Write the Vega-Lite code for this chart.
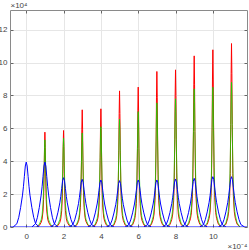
{
"$schema":"https://vega.github.io/schema/vega-lite/v6.json",
"width":237,"height":217,
"autosize":{"type":"none"},
"padding":{"left":10,"top":10,"right":2,"bottom":23},
"background":"white",
"config":{
"view":{"stroke":"#8a8a8a","strokeWidth":1},
"axis":{"labelFont":"Liberation Sans","labelFontSize":8,"labelColor":"#444444","gridColor":"#e6e6e6","gridWidth":1,"domain":false,"tickColor":"#666666","tickSize":-3,"titleFont":"Liberation Sans","titleFontSize":8,"titleFontWeight":"normal","titleColor":"#444444"}
},
"datasets":{
"red":[
{"k":1,"x":0.55,"y":0},{"k":1,"x":0.7,"y":0.09},{"k":1,"x":0.8,"y":0.28},{"k":1,"x":0.85,"y":0.48},{"k":1,"x":0.9,"y":0.97},{"k":1,"x":0.93,"y":1.68},{"k":1,"x":0.96,"y":3.23},{"k":1,"x":0.98,"y":4.82},{"k":1,"x":1,"y":5.77},{"k":1,"x":1.02,"y":4.82},{"k":1,"x":1.04,"y":3.23},{"k":1,"x":1.07,"y":1.68},{"k":1,"x":1.1,"y":0.97},{"k":1,"x":1.15,"y":0.48},{"k":1,"x":1.2,"y":0.28},{"k":1,"x":1.3,"y":0.09},{"k":1,"x":1.45,"y":0},
{"k":2,"x":1.55,"y":0},{"k":2,"x":1.7,"y":0.09},{"k":2,"x":1.8,"y":0.28},{"k":2,"x":1.85,"y":0.49},{"k":2,"x":1.9,"y":0.99},{"k":2,"x":1.93,"y":1.71},{"k":2,"x":1.96,"y":3.28},{"k":2,"x":1.98,"y":4.9},{"k":2,"x":2,"y":5.87},{"k":2,"x":2.02,"y":4.9},{"k":2,"x":2.04,"y":3.28},{"k":2,"x":2.07,"y":1.71},{"k":2,"x":2.1,"y":0.99},{"k":2,"x":2.15,"y":0.49},{"k":2,"x":2.2,"y":0.28},{"k":2,"x":2.3,"y":0.09},{"k":2,"x":2.45,"y":0},
{"k":3,"x":2.55,"y":0},{"k":3,"x":2.7,"y":0.11},{"k":3,"x":2.8,"y":0.34},{"k":3,"x":2.85,"y":0.59},{"k":3,"x":2.9,"y":1.2},{"k":3,"x":2.93,"y":2.08},{"k":3,"x":2.96,"y":3.99},{"k":3,"x":2.98,"y":5.95},{"k":3,"x":3,"y":7.13},{"k":3,"x":3.02,"y":5.95},{"k":3,"x":3.04,"y":3.99},{"k":3,"x":3.07,"y":2.08},{"k":3,"x":3.1,"y":1.2},{"k":3,"x":3.15,"y":0.59},{"k":3,"x":3.2,"y":0.34},{"k":3,"x":3.3,"y":0.11},{"k":3,"x":3.45,"y":0},
{"k":4,"x":3.55,"y":0},{"k":4,"x":3.7,"y":0.11},{"k":4,"x":3.8,"y":0.35},{"k":4,"x":3.85,"y":0.6},{"k":4,"x":3.9,"y":1.21},{"k":4,"x":3.93,"y":2.1},{"k":4,"x":3.96,"y":4.02},{"k":4,"x":3.98,"y":6},{"k":4,"x":4,"y":7.19},{"k":4,"x":4.02,"y":6},{"k":4,"x":4.04,"y":4.02},{"k":4,"x":4.07,"y":2.1},{"k":4,"x":4.1,"y":1.21},{"k":4,"x":4.15,"y":0.6},{"k":4,"x":4.2,"y":0.35},{"k":4,"x":4.3,"y":0.11},{"k":4,"x":4.45,"y":0},
{"k":5,"x":4.55,"y":0},{"k":5,"x":4.7,"y":0.12},{"k":5,"x":4.8,"y":0.4},{"k":5,"x":4.85,"y":0.69},{"k":5,"x":4.9,"y":1.39},{"k":5,"x":4.93,"y":2.42},{"k":5,"x":4.96,"y":4.63},{"k":5,"x":4.98,"y":6.91},{"k":5,"x":5,"y":8.28},{"k":5,"x":5.02,"y":6.91},{"k":5,"x":5.04,"y":4.63},{"k":5,"x":5.07,"y":2.42},{"k":5,"x":5.1,"y":1.39},{"k":5,"x":5.15,"y":0.69},{"k":5,"x":5.2,"y":0.4},{"k":5,"x":5.3,"y":0.12},{"k":5,"x":5.45,"y":0},
{"k":6,"x":5.55,"y":0},{"k":6,"x":5.7,"y":0.13},{"k":6,"x":5.8,"y":0.41},{"k":6,"x":5.85,"y":0.71},{"k":6,"x":5.9,"y":1.43},{"k":6,"x":5.93,"y":2.48},{"k":6,"x":5.96,"y":4.76},{"k":6,"x":5.98,"y":7.11},{"k":6,"x":6,"y":8.51},{"k":6,"x":6.02,"y":7.11},{"k":6,"x":6.04,"y":4.76},{"k":6,"x":6.07,"y":2.48},{"k":6,"x":6.1,"y":1.43},{"k":6,"x":6.15,"y":0.71},{"k":6,"x":6.2,"y":0.41},{"k":6,"x":6.3,"y":0.13},{"k":6,"x":6.45,"y":0},
{"k":7,"x":6.55,"y":0},{"k":7,"x":6.7,"y":0.14},{"k":7,"x":6.8,"y":0.45},{"k":7,"x":6.85,"y":0.79},{"k":7,"x":6.9,"y":1.59},{"k":7,"x":6.93,"y":2.76},{"k":7,"x":6.96,"y":5.29},{"k":7,"x":6.98,"y":7.9},{"k":7,"x":7,"y":9.46},{"k":7,"x":7.02,"y":7.9},{"k":7,"x":7.04,"y":5.29},{"k":7,"x":7.07,"y":2.76},{"k":7,"x":7.1,"y":1.59},{"k":7,"x":7.15,"y":0.79},{"k":7,"x":7.2,"y":0.45},{"k":7,"x":7.3,"y":0.14},{"k":7,"x":7.45,"y":0},
{"k":8,"x":7.55,"y":0},{"k":8,"x":7.7,"y":0.14},{"k":8,"x":7.8,"y":0.46},{"k":8,"x":7.85,"y":0.79},{"k":8,"x":7.9,"y":1.61},{"k":8,"x":7.93,"y":2.79},{"k":8,"x":7.96,"y":5.34},{"k":8,"x":7.98,"y":7.98},{"k":8,"x":8,"y":9.56},{"k":8,"x":8.02,"y":7.98},{"k":8,"x":8.04,"y":5.34},{"k":8,"x":8.07,"y":2.79},{"k":8,"x":8.1,"y":1.61},{"k":8,"x":8.15,"y":0.79},{"k":8,"x":8.2,"y":0.46},{"k":8,"x":8.3,"y":0.14},{"k":8,"x":8.45,"y":0},
{"k":9,"x":8.55,"y":0},{"k":9,"x":8.7,"y":0.16},{"k":9,"x":8.8,"y":0.5},{"k":9,"x":8.85,"y":0.86},{"k":9,"x":8.9,"y":1.75},{"k":9,"x":8.93,"y":3.04},{"k":9,"x":8.96,"y":5.82},{"k":9,"x":8.98,"y":8.69},{"k":9,"x":9,"y":10.41},{"k":9,"x":9.02,"y":8.69},{"k":9,"x":9.04,"y":5.82},{"k":9,"x":9.07,"y":3.04},{"k":9,"x":9.1,"y":1.75},{"k":9,"x":9.15,"y":0.86},{"k":9,"x":9.2,"y":0.5},{"k":9,"x":9.3,"y":0.16},{"k":9,"x":9.45,"y":0},
{"k":10,"x":9.55,"y":0},{"k":10,"x":9.7,"y":0.16},{"k":10,"x":9.8,"y":0.52},{"k":10,"x":9.85,"y":0.89},{"k":10,"x":9.9,"y":1.81},{"k":10,"x":9.93,"y":3.15},{"k":10,"x":9.96,"y":6.03},{"k":10,"x":9.98,"y":9},{"k":10,"x":10,"y":10.78},{"k":10,"x":10.02,"y":9},{"k":10,"x":10.04,"y":6.03},{"k":10,"x":10.07,"y":3.15},{"k":10,"x":10.1,"y":1.81},{"k":10,"x":10.15,"y":0.89},{"k":10,"x":10.2,"y":0.52},{"k":10,"x":10.3,"y":0.16},{"k":10,"x":10.45,"y":0},
{"k":11,"x":10.55,"y":0},{"k":11,"x":10.7,"y":0.17},{"k":11,"x":10.8,"y":0.54},{"k":11,"x":10.85,"y":0.93},{"k":11,"x":10.9,"y":1.87},{"k":11,"x":10.93,"y":3.26},{"k":11,"x":10.96,"y":6.24},{"k":11,"x":10.98,"y":9.32},{"k":11,"x":11,"y":11.16},{"k":11,"x":11.02,"y":9.32},{"k":11,"x":11.04,"y":6.24},{"k":11,"x":11.07,"y":3.26},{"k":11,"x":11.1,"y":1.87},{"k":11,"x":11.15,"y":0.93},{"k":11,"x":11.2,"y":0.54},{"k":11,"x":11.3,"y":0.17},{"k":11,"x":11.45,"y":0}
],
"green":[
{"k":1,"x":0.55,"y":0},{"k":1,"x":0.7,"y":0.16},{"k":1,"x":0.8,"y":0.44},{"k":1,"x":0.85,"y":0.73},{"k":1,"x":0.9,"y":1.4},{"k":1,"x":0.93,"y":2.25},{"k":1,"x":0.96,"y":3.67},{"k":1,"x":0.98,"y":4.77},{"k":1,"x":1,"y":5.3},{"k":1,"x":1.02,"y":4.77},{"k":1,"x":1.04,"y":3.67},{"k":1,"x":1.07,"y":2.25},{"k":1,"x":1.1,"y":1.4},{"k":1,"x":1.15,"y":0.73},{"k":1,"x":1.2,"y":0.44},{"k":1,"x":1.3,"y":0.16},{"k":1,"x":1.45,"y":0},
{"k":2,"x":1.55,"y":0},{"k":2,"x":1.7,"y":0.16},{"k":2,"x":1.8,"y":0.45},{"k":2,"x":1.85,"y":0.75},{"k":2,"x":1.9,"y":1.43},{"k":2,"x":1.93,"y":2.29},{"k":2,"x":1.96,"y":3.74},{"k":2,"x":1.98,"y":4.86},{"k":2,"x":2,"y":5.4},{"k":2,"x":2.02,"y":4.86},{"k":2,"x":2.04,"y":3.74},{"k":2,"x":2.07,"y":2.29},{"k":2,"x":2.1,"y":1.43},{"k":2,"x":2.15,"y":0.75},{"k":2,"x":2.2,"y":0.45},{"k":2,"x":2.3,"y":0.16},{"k":2,"x":2.45,"y":0},
{"k":3,"x":2.55,"y":0},{"k":3,"x":2.7,"y":0.17},{"k":3,"x":2.8,"y":0.47},{"k":3,"x":2.85,"y":0.79},{"k":3,"x":2.9,"y":1.52},{"k":3,"x":2.93,"y":2.43},{"k":3,"x":2.96,"y":3.96},{"k":3,"x":2.98,"y":5.15},{"k":3,"x":3,"y":5.72},{"k":3,"x":3.02,"y":5.15},{"k":3,"x":3.04,"y":3.96},{"k":3,"x":3.07,"y":2.43},{"k":3,"x":3.1,"y":1.52},{"k":3,"x":3.15,"y":0.79},{"k":3,"x":3.2,"y":0.47},{"k":3,"x":3.3,"y":0.17},{"k":3,"x":3.45,"y":0},
{"k":4,"x":3.55,"y":0},{"k":4,"x":3.7,"y":0.18},{"k":4,"x":3.8,"y":0.51},{"k":4,"x":3.85,"y":0.84},{"k":4,"x":3.9,"y":1.62},{"k":4,"x":3.93,"y":2.59},{"k":4,"x":3.96,"y":4.22},{"k":4,"x":3.98,"y":5.49},{"k":4,"x":4,"y":6.1},{"k":4,"x":4.02,"y":5.49},{"k":4,"x":4.04,"y":4.22},{"k":4,"x":4.07,"y":2.59},{"k":4,"x":4.1,"y":1.62},{"k":4,"x":4.15,"y":0.84},{"k":4,"x":4.2,"y":0.51},{"k":4,"x":4.3,"y":0.18},{"k":4,"x":4.45,"y":0},
{"k":5,"x":4.55,"y":0},{"k":5,"x":4.7,"y":0.2},{"k":5,"x":4.8,"y":0.54},{"k":5,"x":4.85,"y":0.91},{"k":5,"x":4.9,"y":1.74},{"k":5,"x":4.93,"y":2.78},{"k":5,"x":4.96,"y":4.54},{"k":5,"x":4.98,"y":5.9},{"k":5,"x":5,"y":6.56},{"k":5,"x":5.02,"y":5.9},{"k":5,"x":5.04,"y":4.54},{"k":5,"x":5.07,"y":2.78},{"k":5,"x":5.1,"y":1.74},{"k":5,"x":5.15,"y":0.91},{"k":5,"x":5.2,"y":0.54},{"k":5,"x":5.3,"y":0.2},{"k":5,"x":5.45,"y":0},
{"k":6,"x":5.55,"y":0},{"k":6,"x":5.7,"y":0.21},{"k":6,"x":5.8,"y":0.58},{"k":6,"x":5.85,"y":0.97},{"k":6,"x":5.9,"y":1.86},{"k":6,"x":5.93,"y":2.98},{"k":6,"x":5.96,"y":4.86},{"k":6,"x":5.98,"y":6.32},{"k":6,"x":6,"y":7.02},{"k":6,"x":6.02,"y":6.32},{"k":6,"x":6.04,"y":4.86},{"k":6,"x":6.07,"y":2.98},{"k":6,"x":6.1,"y":1.86},{"k":6,"x":6.15,"y":0.97},{"k":6,"x":6.2,"y":0.58},{"k":6,"x":6.3,"y":0.21},{"k":6,"x":6.45,"y":0},
{"k":7,"x":6.55,"y":0},{"k":7,"x":6.7,"y":0.23},{"k":7,"x":6.8,"y":0.63},{"k":7,"x":6.85,"y":1.04},{"k":7,"x":6.9,"y":2},{"k":7,"x":6.93,"y":3.2},{"k":7,"x":6.96,"y":5.22},{"k":7,"x":6.98,"y":6.8},{"k":7,"x":7,"y":7.55},{"k":7,"x":7.02,"y":6.8},{"k":7,"x":7.04,"y":5.22},{"k":7,"x":7.07,"y":3.2},{"k":7,"x":7.1,"y":2},{"k":7,"x":7.15,"y":1.04},{"k":7,"x":7.2,"y":0.63},{"k":7,"x":7.3,"y":0.23},{"k":7,"x":7.45,"y":0},
{"k":8,"x":7.55,"y":0},{"k":8,"x":7.7,"y":0.23},{"k":8,"x":7.8,"y":0.65},{"k":8,"x":7.85,"y":1.08},{"k":8,"x":7.9,"y":2.07},{"k":8,"x":7.93,"y":3.31},{"k":8,"x":7.96,"y":5.4},{"k":8,"x":7.98,"y":7.02},{"k":8,"x":8,"y":7.8},{"k":8,"x":8.02,"y":7.02},{"k":8,"x":8.04,"y":5.4},{"k":8,"x":8.07,"y":3.31},{"k":8,"x":8.1,"y":2.07},{"k":8,"x":8.15,"y":1.08},{"k":8,"x":8.2,"y":0.65},{"k":8,"x":8.3,"y":0.23},{"k":8,"x":8.45,"y":0},
{"k":9,"x":8.55,"y":0},{"k":9,"x":8.7,"y":0.25},{"k":9,"x":8.8,"y":0.7},{"k":9,"x":8.85,"y":1.16},{"k":9,"x":8.9,"y":2.23},{"k":9,"x":8.93,"y":3.56},{"k":9,"x":8.96,"y":5.81},{"k":9,"x":8.98,"y":7.56},{"k":9,"x":9,"y":8.4},{"k":9,"x":9.02,"y":7.56},{"k":9,"x":9.04,"y":5.81},{"k":9,"x":9.07,"y":3.56},{"k":9,"x":9.1,"y":2.23},{"k":9,"x":9.15,"y":1.16},{"k":9,"x":9.2,"y":0.7},{"k":9,"x":9.3,"y":0.25},{"k":9,"x":9.45,"y":0},
{"k":10,"x":9.55,"y":0},{"k":10,"x":9.7,"y":0.26},{"k":10,"x":9.8,"y":0.71},{"k":10,"x":9.85,"y":1.17},{"k":10,"x":9.9,"y":2.25},{"k":10,"x":9.93,"y":3.6},{"k":10,"x":9.96,"y":5.88},{"k":10,"x":9.98,"y":7.65},{"k":10,"x":10,"y":8.5},{"k":10,"x":10.02,"y":7.65},{"k":10,"x":10.04,"y":5.88},{"k":10,"x":10.07,"y":3.6},{"k":10,"x":10.1,"y":2.25},{"k":10,"x":10.15,"y":1.17},{"k":10,"x":10.2,"y":0.71},{"k":10,"x":10.3,"y":0.26},{"k":10,"x":10.45,"y":0},
{"k":11,"x":10.55,"y":0},{"k":11,"x":10.7,"y":0.26},{"k":11,"x":10.8,"y":0.73},{"k":11,"x":10.85,"y":1.21},{"k":11,"x":10.9,"y":2.33},{"k":11,"x":10.93,"y":3.73},{"k":11,"x":10.96,"y":6.09},{"k":11,"x":10.98,"y":7.92},{"k":11,"x":11,"y":8.8},{"k":11,"x":11.02,"y":7.92},{"k":11,"x":11.04,"y":6.09},{"k":11,"x":11.07,"y":3.73},{"k":11,"x":11.1,"y":2.33},{"k":11,"x":11.15,"y":1.21},{"k":11,"x":11.2,"y":0.73},{"k":11,"x":11.3,"y":0.26},{"k":11,"x":11.45,"y":0}
],
"blue":[
{"k":0,"x":-0.7,"y":0},{"k":0,"x":-0.5,"y":0.2},{"k":0,"x":-0.4,"y":0.59},{"k":0,"x":-0.3,"y":1.19},{"k":0,"x":-0.2,"y":1.94},{"k":0,"x":-0.15,"y":2.45},{"k":0,"x":-0.1,"y":3.08},{"k":0,"x":-0.05,"y":3.71},{"k":0,"x":0,"y":3.95},{"k":0,"x":0.05,"y":3.71},{"k":0,"x":0.1,"y":3.08},{"k":0,"x":0.15,"y":2.45},{"k":0,"x":0.2,"y":1.94},{"k":0,"x":0.3,"y":1.19},{"k":0,"x":0.4,"y":0.59},{"k":0,"x":0.5,"y":0.2},{"k":0,"x":0.7,"y":0},
{"k":1,"x":0.3,"y":0},{"k":1,"x":0.5,"y":0.2},{"k":1,"x":0.6,"y":0.59},{"k":1,"x":0.7,"y":1.19},{"k":1,"x":0.8,"y":1.94},{"k":1,"x":0.85,"y":2.45},{"k":1,"x":0.9,"y":3.08},{"k":1,"x":0.95,"y":3.71},{"k":1,"x":1,"y":3.95},{"k":1,"x":1.05,"y":3.71},{"k":1,"x":1.1,"y":3.08},{"k":1,"x":1.15,"y":2.45},{"k":1,"x":1.2,"y":1.94},{"k":1,"x":1.3,"y":1.19},{"k":1,"x":1.4,"y":0.59},{"k":1,"x":1.5,"y":0.2},{"k":1,"x":1.7,"y":0},
{"k":2,"x":1.3,"y":0},{"k":2,"x":1.5,"y":0.15},{"k":2,"x":1.6,"y":0.45},{"k":2,"x":1.7,"y":0.9},{"k":2,"x":1.8,"y":1.47},{"k":2,"x":1.85,"y":1.86},{"k":2,"x":1.9,"y":2.34},{"k":2,"x":1.95,"y":2.82},{"k":2,"x":2,"y":3},{"k":2,"x":2.05,"y":2.82},{"k":2,"x":2.1,"y":2.34},{"k":2,"x":2.15,"y":1.86},{"k":2,"x":2.2,"y":1.47},{"k":2,"x":2.3,"y":0.9},{"k":2,"x":2.4,"y":0.45},{"k":2,"x":2.5,"y":0.15},{"k":2,"x":2.7,"y":0},
{"k":3,"x":2.3,"y":0},{"k":3,"x":2.5,"y":0.15},{"k":3,"x":2.6,"y":0.44},{"k":3,"x":2.7,"y":0.87},{"k":3,"x":2.8,"y":1.42},{"k":3,"x":2.85,"y":1.8},{"k":3,"x":2.9,"y":2.26},{"k":3,"x":2.95,"y":2.73},{"k":3,"x":3,"y":2.9},{"k":3,"x":3.05,"y":2.73},{"k":3,"x":3.1,"y":2.26},{"k":3,"x":3.15,"y":1.8},{"k":3,"x":3.2,"y":1.42},{"k":3,"x":3.3,"y":0.87},{"k":3,"x":3.4,"y":0.44},{"k":3,"x":3.5,"y":0.15},{"k":3,"x":3.7,"y":0},
{"k":4,"x":3.3,"y":0},{"k":4,"x":3.5,"y":0.14},{"k":4,"x":3.6,"y":0.43},{"k":4,"x":3.7,"y":0.86},{"k":4,"x":3.8,"y":1.4},{"k":4,"x":3.85,"y":1.77},{"k":4,"x":3.9,"y":2.23},{"k":4,"x":3.95,"y":2.69},{"k":4,"x":4,"y":2.86},{"k":4,"x":4.05,"y":2.69},{"k":4,"x":4.1,"y":2.23},{"k":4,"x":4.15,"y":1.77},{"k":4,"x":4.2,"y":1.4},{"k":4,"x":4.3,"y":0.86},{"k":4,"x":4.4,"y":0.43},{"k":4,"x":4.5,"y":0.14},{"k":4,"x":4.7,"y":0},
{"k":5,"x":4.3,"y":0},{"k":5,"x":4.5,"y":0.14},{"k":5,"x":4.6,"y":0.42},{"k":5,"x":4.7,"y":0.85},{"k":5,"x":4.8,"y":1.38},{"k":5,"x":4.85,"y":1.75},{"k":5,"x":4.9,"y":2.2},{"k":5,"x":4.95,"y":2.65},{"k":5,"x":5,"y":2.82},{"k":5,"x":5.05,"y":2.65},{"k":5,"x":5.1,"y":2.2},{"k":5,"x":5.15,"y":1.75},{"k":5,"x":5.2,"y":1.38},{"k":5,"x":5.3,"y":0.85},{"k":5,"x":5.4,"y":0.42},{"k":5,"x":5.5,"y":0.14},{"k":5,"x":5.7,"y":0},
{"k":6,"x":5.3,"y":0},{"k":6,"x":5.5,"y":0.14},{"k":6,"x":5.6,"y":0.43},{"k":6,"x":5.7,"y":0.86},{"k":6,"x":5.8,"y":1.4},{"k":6,"x":5.85,"y":1.77},{"k":6,"x":5.9,"y":2.23},{"k":6,"x":5.95,"y":2.69},{"k":6,"x":6,"y":2.86},{"k":6,"x":6.05,"y":2.69},{"k":6,"x":6.1,"y":2.23},{"k":6,"x":6.15,"y":1.77},{"k":6,"x":6.2,"y":1.4},{"k":6,"x":6.3,"y":0.86},{"k":6,"x":6.4,"y":0.43},{"k":6,"x":6.5,"y":0.14},{"k":6,"x":6.7,"y":0},
{"k":7,"x":6.3,"y":0},{"k":7,"x":6.5,"y":0.14},{"k":7,"x":6.6,"y":0.43},{"k":7,"x":6.7,"y":0.86},{"k":7,"x":6.8,"y":1.4},{"k":7,"x":6.85,"y":1.77},{"k":7,"x":6.9,"y":2.23},{"k":7,"x":6.95,"y":2.69},{"k":7,"x":7,"y":2.86},{"k":7,"x":7.05,"y":2.69},{"k":7,"x":7.1,"y":2.23},{"k":7,"x":7.15,"y":1.77},{"k":7,"x":7.2,"y":1.4},{"k":7,"x":7.3,"y":0.86},{"k":7,"x":7.4,"y":0.43},{"k":7,"x":7.5,"y":0.14},{"k":7,"x":7.7,"y":0},
{"k":8,"x":7.3,"y":0},{"k":8,"x":7.5,"y":0.15},{"k":8,"x":7.6,"y":0.44},{"k":8,"x":7.7,"y":0.88},{"k":8,"x":7.8,"y":1.43},{"k":8,"x":7.85,"y":1.81},{"k":8,"x":7.9,"y":2.28},{"k":8,"x":7.95,"y":2.74},{"k":8,"x":8,"y":2.92},{"k":8,"x":8.05,"y":2.74},{"k":8,"x":8.1,"y":2.28},{"k":8,"x":8.15,"y":1.81},{"k":8,"x":8.2,"y":1.43},{"k":8,"x":8.3,"y":0.88},{"k":8,"x":8.4,"y":0.44},{"k":8,"x":8.5,"y":0.15},{"k":8,"x":8.7,"y":0},
{"k":9,"x":8.3,"y":0},{"k":9,"x":8.5,"y":0.15},{"k":9,"x":8.6,"y":0.44},{"k":9,"x":8.7,"y":0.89},{"k":9,"x":8.8,"y":1.45},{"k":9,"x":8.85,"y":1.84},{"k":9,"x":8.9,"y":2.31},{"k":9,"x":8.95,"y":2.78},{"k":9,"x":9,"y":2.96},{"k":9,"x":9.05,"y":2.78},{"k":9,"x":9.1,"y":2.31},{"k":9,"x":9.15,"y":1.84},{"k":9,"x":9.2,"y":1.45},{"k":9,"x":9.3,"y":0.89},{"k":9,"x":9.4,"y":0.44},{"k":9,"x":9.5,"y":0.15},{"k":9,"x":9.7,"y":0},
{"k":10,"x":9.3,"y":0},{"k":10,"x":9.5,"y":0.15},{"k":10,"x":9.6,"y":0.46},{"k":10,"x":9.7,"y":0.92},{"k":10,"x":9.8,"y":1.5},{"k":10,"x":9.85,"y":1.9},{"k":10,"x":9.9,"y":2.39},{"k":10,"x":9.95,"y":2.88},{"k":10,"x":10,"y":3.06},{"k":10,"x":10.05,"y":2.88},{"k":10,"x":10.1,"y":2.39},{"k":10,"x":10.15,"y":1.9},{"k":10,"x":10.2,"y":1.5},{"k":10,"x":10.3,"y":0.92},{"k":10,"x":10.4,"y":0.46},{"k":10,"x":10.5,"y":0.15},{"k":10,"x":10.7,"y":0},
{"k":11,"x":10.3,"y":0},{"k":11,"x":10.5,"y":0.15},{"k":11,"x":10.6,"y":0.46},{"k":11,"x":10.7,"y":0.92},{"k":11,"x":10.8,"y":1.5},{"k":11,"x":10.85,"y":1.9},{"k":11,"x":10.9,"y":2.39},{"k":11,"x":10.95,"y":2.88},{"k":11,"x":11,"y":3.06},{"k":11,"x":11.05,"y":2.88},{"k":11,"x":11.1,"y":2.39},{"k":11,"x":11.15,"y":1.9},{"k":11,"x":11.2,"y":1.5},{"k":11,"x":11.3,"y":0.92},{"k":11,"x":11.4,"y":0.46},{"k":11,"x":11.5,"y":0.15},{"k":11,"x":11.7,"y":0}
],
"base":[{"k":99,"x":-0.87,"y":0},{"k":99,"x":11.83,"y":0}]
},
"layer":[
{"data":{"name":"red"},"mark":{"type":"line","color":"#ff0000","strokeWidth":1,"clip":true},
"encoding":{
"x":{"field":"x","type":"quantitative","scale":{"domain":[-0.87,11.83],"nice":false,"zero":false},"axis":{"values":[0,2,4,6,8,10],"grid":true,"labelPadding":8,"title":"×10⁻⁴","titleX":237,"titleY":21,"titleAlign":"right","titleBaseline":"alphabetic","titleAnchor":null}},
"y":{"field":"y","type":"quantitative","scale":{"domain":[0,13.2],"nice":false,"zero":true},"axis":{"values":[0,2,4,6,8,10,12],"grid":true,"labelPadding":6,"title":"×10⁴","titleAngle":0,"titleX":0,"titleY":-3,"titleAlign":"left","titleBaseline":"alphabetic","titleAnchor":null}},
"detail":{"field":"k","type":"nominal"}}},
{"data":{"name":"green"},"mark":{"type":"line","color":"#00e000","opacity":0.75,"strokeWidth":1,"clip":true},
"encoding":{"x":{"field":"x","type":"quantitative","axis":null},"y":{"field":"y","type":"quantitative","axis":null},"detail":{"field":"k","type":"nominal"}}},
{"data":{"name":"blue"},"mark":{"type":"line","color":"#0000ff","strokeWidth":1,"clip":true},
"encoding":{"x":{"field":"x","type":"quantitative","axis":null},"y":{"field":"y","type":"quantitative","axis":null},"detail":{"field":"k","type":"nominal"}}},
{"data":{"name":"base"},"mark":{"type":"line","color":"#0000ff","strokeWidth":1,"clip":true},
"encoding":{"x":{"field":"x","type":"quantitative","axis":{"orient":"top","values":[0,2,4,6,8,10],"labels":false,"grid":false,"title":null}},"y":{"field":"y","type":"quantitative","axis":{"orient":"right","values":[0,2,4,6,8,10,12],"labels":false,"grid":false,"title":null}},"detail":{"field":"k","type":"nominal"}}}
],
"resolve":{"axis":{"x":"independent","y":"independent"}}
}
